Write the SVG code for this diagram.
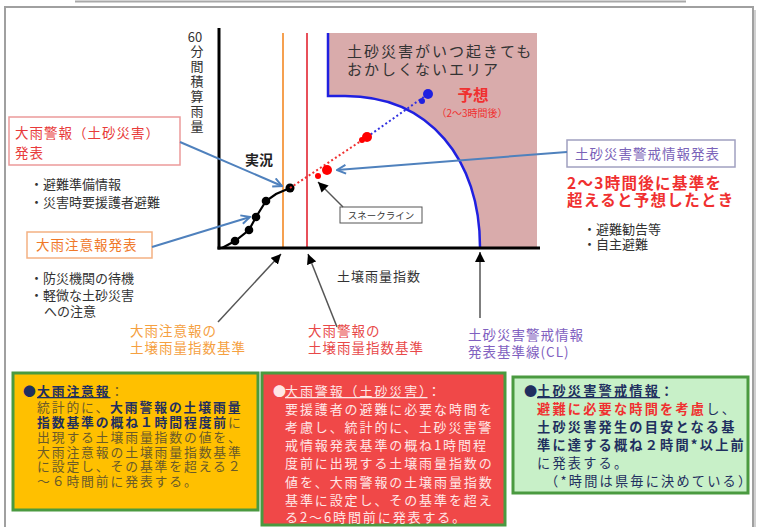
<svg xmlns="http://www.w3.org/2000/svg" width="763" height="527" viewBox="0 0 763 527">
<style>
text{font-family:"Noto Sans CJK JP","Noto Sans",sans-serif;}
.dk{fill:#333;font-size:13px;}
.blue{stroke:#4f81bd;stroke-width:2;fill:none;}
.gray{stroke:#555;stroke-width:1.5;fill:none;}
.yb{font-size:12.8px;letter-spacing:1.9px;fill:#6a5a2a;}
.nv{fill:#1f2f5f;font-weight:bold;}
.rb{font-size:13px;letter-spacing:1.9px;fill:#ffe6e6;}
.gb{font-size:13.2px;letter-spacing:2.2px;fill:#1f2f5f;}
.lbl{font-size:13.5px;letter-spacing:1px;}
</style>
<defs>
<marker id="ab" viewBox="0 0 10 10" refX="9" refY="5" markerWidth="11" markerHeight="11" markerUnits="userSpaceOnUse" orient="auto"><path d="M1,1 L9,5 L1,9" fill="none" stroke="#4f81bd" stroke-width="1.8"/></marker>
<marker id="ak" viewBox="0 0 10 10" refX="10" refY="5" markerWidth="10" markerHeight="10" markerUnits="userSpaceOnUse" orient="auto"><path d="M0,0 L10,5 L0,10 Z" fill="#000"/></marker>
</defs>
<rect width="763" height="527" fill="#fff"/>
<line x1="75" y1="1.5" x2="686" y2="1.5" stroke="#a8a8a8" stroke-width="2"/>
<rect x="8" y="10" width="748" height="530" fill="#d0d0d0"/>
<rect x="5" y="7" width="748" height="530" fill="#fff" stroke="#a0a0a0" stroke-width="2"/>

<g id="danger-area">
<path d="M328,33 H537 V247 H480 C480,160 430,96 345,96 H328 Z" fill="#d9abab"/>
<path d="M328,33 V96 H345 C430,96 480,160 480,247" fill="none" stroke="#2020e0" stroke-width="2.5"/>
<text class="dk" style="font-size:15px;letter-spacing:2px" x="347" y="57">土砂災害がいつ起きても<tspan x="347" dy="18">おかしくないエリア</tspan></text>
</g>

<g id="axes">
<line x1="283" y1="33" x2="283" y2="247" stroke="#f5a050" stroke-width="2"/>
<line x1="307" y1="33" x2="307" y2="247" stroke="#e8505a" stroke-width="2"/>
<line x1="219" y1="28" x2="219" y2="249.5" stroke="#000" stroke-width="3"/>
<line x1="217.5" y1="248" x2="540" y2="248" stroke="#000" stroke-width="3"/>
<text class="dk" x="195" y="42" text-anchor="middle">60</text>
<text class="dk" x="197" y="45" writing-mode="tb" style="letter-spacing:2px">分間積算雨量</text>
<text class="dk" x="337" y="281" style="letter-spacing:1px">土壌雨量指数</text>
</g>

<g id="series">
<polyline points="222,248 235,241 249,230 256,217 266,201 276,194 290,188" fill="none" stroke="#000" stroke-width="2.2"/>
<circle cx="235" cy="241" r="4.3"/><circle cx="249" cy="230" r="4.3"/><circle cx="256" cy="217" r="4.3"/><circle cx="266" cy="201" r="4.3"/><circle cx="290" cy="188" r="4.5"/>
<line x1="290" y1="188" x2="367" y2="137" stroke="#f03030" stroke-width="2" stroke-dasharray="2 2.5"/>
<line x1="367" y1="137" x2="428" y2="94" stroke="#3030e0" stroke-width="2" stroke-dasharray="2 2.5"/>
<circle cx="318" cy="176" r="3" fill="#f00"/><circle cx="327" cy="170" r="5" fill="#f00"/>
<circle cx="362" cy="140" r="3" fill="#f00"/><circle cx="367" cy="137" r="5" fill="#f00"/>
<circle cx="422" cy="101" r="3" fill="#2020e0"/><circle cx="428" cy="94" r="5" fill="#2020e0"/>
<text x="245" y="165" font-size="14" font-weight="bold" fill="#222">実況</text>
<text x="473" y="101" text-anchor="middle" font-size="15.5" font-weight="bold" fill="#f03030">予想<tspan x="472" dy="16" font-size="10" font-weight="normal">（2〜3時間後）</tspan></text>
</g>

<g id="snake-line">
<rect x="340" y="207" width="82" height="16" fill="#fff" stroke="#555" stroke-width="1"/>
<text x="381" y="219" text-anchor="middle" font-size="9.5" fill="#333">スネークライン</text>
</g>

<g id="heavy-rain-warning">
<rect x="9" y="117" width="171" height="48" fill="#fff" stroke="#ec9a9a" stroke-width="1.5"/>
<text class="lbl" x="15" y="138" fill="#e83a3a">大雨警報（土砂災害）<tspan x="15" dy="20">発表</tspan></text>
<text class="dk" x="30" y="189">・避難準備情報<tspan x="30" dy="18">・災害時要援護者避難</tspan></text>
</g>

<g id="heavy-rain-advisory">
<rect x="27" y="232" width="125" height="26" fill="#fff" stroke="#f4b183" stroke-width="1.5"/>
<text class="lbl" x="36" y="250" fill="#f07828">大雨注意報発表</text>
<text class="dk" x="30" y="283">・防災機関の待機<tspan x="30" dy="17">・軽微な土砂災害</tspan><tspan x="44" dy="16">への注意</tspan></text>
</g>

<g id="sediment-warning">
<rect x="567" y="140" width="168" height="27" fill="#fff" stroke="#a0a0c0" stroke-width="1.5"/>
<text class="lbl" x="575" y="159" fill="#7a62b8">土砂災害警戒情報発表</text>
<text x="567" y="189" font-size="15.5" letter-spacing="1.3" font-weight="bold" fill="#f03030">2〜3時間後に基準を<tspan x="567" dy="17">超えると予想したとき</tspan></text>
<text class="dk" x="583" y="234">・避難勧告等<tspan x="583" dy="15">・自主避難</tspan></text>
</g>

<g id="advisory-criterion">
<text class="lbl" x="130" y="336" fill="#f5a040">大雨注意報の<tspan x="130" dy="17">土壌雨量指数基準</tspan></text>
</g>
<g id="warning-criterion">
<text class="lbl" x="308" y="336" fill="#e84848">大雨警報の<tspan x="308" dy="17">土壌雨量指数基準</tspan></text>
</g>
<g id="cl-criterion">
<text class="lbl" x="468" y="340" fill="#8060c0">土砂災害警戒情報<tspan x="468" dy="17">発表基準線(CL)</tspan></text>
</g>

<g id="connectors">
<line class="blue" x1="180" y1="142" x2="282" y2="186" marker-end="url(#ab)"/>
<line class="blue" x1="152" y1="247" x2="250" y2="217" marker-end="url(#ab)"/>
<line class="blue" x1="567" y1="152" x2="337" y2="170" marker-end="url(#ab)"/>
<line class="gray" x1="343" y1="207" x2="318" y2="182" marker-end="url(#ak)"/>
<line class="gray" x1="218" y1="322" x2="281" y2="254" marker-end="url(#ak)"/>
<line class="gray" x1="337" y1="327" x2="308" y2="254" marker-end="url(#ak)"/>
<line class="gray" x1="480" y1="318" x2="480" y2="252" marker-end="url(#ak)"/>
</g>

<g id="box-advisory">
<rect x="13" y="373" width="245" height="137" fill="#ffc000" stroke="#4a9a40" stroke-width="3"/>
<text class="yb" x="23" y="396"><tspan class="nv">●</tspan><tspan class="nv" x="37" text-decoration="underline">大雨注意報</tspan><tspan>：</tspan><tspan x="37" dy="16">統計的に、</tspan><tspan class="nv">大雨警報の土壌雨量</tspan><tspan class="nv" x="37" dy="15">指数基準の概ね１時間程度前</tspan><tspan>に</tspan><tspan x="37" dy="15">出現する土壌雨量指数の値を、</tspan><tspan x="37" dy="14.5">大雨注意報の土壌雨量指数基準</tspan><tspan x="37" dy="14.5">に設定し、その基準を超える２</tspan><tspan x="37" dy="15">〜６時間前に発表する。</tspan></text>
</g>

<g id="box-warning">
<rect x="262" y="373" width="243" height="152" fill="#f04848" stroke="#4a9a40" stroke-width="3"/>
<text class="rb" x="273" y="396">●<tspan x="285" text-decoration="underline">大雨警報（土砂災害）</tspan>：<tspan x="285" dy="18">要援護者の避難に必要な時間を</tspan><tspan x="285" dy="18">考慮し、統計的に、土砂災害警</tspan><tspan x="285" dy="18">戒情報発表基準の概ね1時間程</tspan><tspan x="285" dy="18">度前に出現する土壌雨量指数の</tspan><tspan x="285" dy="19">値を、大雨警報の土壌雨量指数</tspan><tspan x="285" dy="18">基準に設定し、その基準を超え</tspan><tspan x="285" dy="17">る2〜6時間前に発表する。</tspan></text>
</g>

<g id="box-sediment">
<rect x="513" y="377" width="235" height="116" fill="#c8f0c8" stroke="#4a9a40" stroke-width="3"/>
<text class="gb" x="524" y="396"><tspan font-weight="bold">●</tspan><tspan x="537" font-weight="bold" text-decoration="underline">土砂災害警戒情報</tspan><tspan font-weight="bold">：</tspan><tspan x="537" dy="18" fill="#f03030" font-weight="bold">避難に必要な時間を考慮</tspan><tspan>し、</tspan><tspan x="537" dy="18" font-weight="bold">土砂災害発生の目安となる基</tspan><tspan x="537" dy="18" font-weight="bold">準に達する概ね２時間*以上前</tspan><tspan x="537" dy="18">に発表する。</tspan><tspan x="545" dy="18">（*時間は県毎に決めている）</tspan></text>
</g>
</svg>
